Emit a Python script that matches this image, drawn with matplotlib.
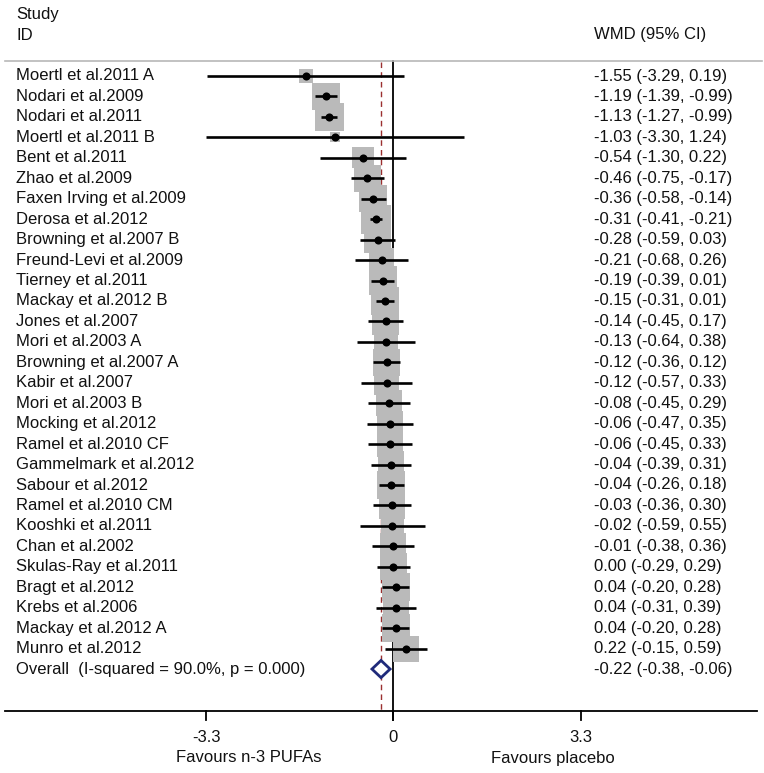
import matplotlib
matplotlib.use("Agg")
import matplotlib.pyplot as plt
from matplotlib.patches import Polygon
from matplotlib.transforms import blended_transform_factory

plt.rcParams['font.family'] = ['Liberation Sans', 'DejaVu Sans']

studies = ["Moertl et al.2011 A", "Nodari et al.2009", "Nodari et al.2011",
           "Moertl et al.2011 B", "Bent et al.2011", "Zhao et al.2009",
           "Faxen Irving et al.2009", "Derosa et al.2012", "Browning et al.2007 B",
           "Freund-Levi et al.2009", "Tierney et al.2011", "Mackay et al.2012 B",
           "Jones et al.2007", "Mori et al.2003 A", "Browning et al.2007 A",
           "Kabir et al.2007", "Mori et al.2003 B", "Mocking et al.2012",
           "Ramel et al.2010 CF", "Gammelmark et al.2012", "Sabour et al.2012",
           "Ramel et al.2010 CM", "Kooshki et al.2011", "Chan et al.2002",
           "Skulas-Ray et al.2011", "Bragt et al.2012", "Krebs et al.2006",
           "Mackay et al.2012 A", "Munro et al.2012"]
wmd = [-1.55, -1.19, -1.13, -1.03, -0.54, -0.46, -0.36, -0.31, -0.28, -0.21,
       -0.19, -0.15, -0.14, -0.13, -0.12, -0.12, -0.08, -0.06, -0.06, -0.04,
       -0.04, -0.03, -0.02, -0.01, 0.00, 0.04, 0.04, 0.04, 0.22]
ci_lo = [-3.29, -1.39, -1.27, -3.30, -1.30, -0.75, -0.58, -0.41, -0.59, -0.68,
         -0.39, -0.31, -0.45, -0.64, -0.36, -0.57, -0.45, -0.47, -0.45, -0.39,
         -0.26, -0.36, -0.59, -0.38, -0.29, -0.20, -0.31, -0.20, -0.15]
ci_hi = [0.19, -0.99, -0.99, 1.24, 0.22, -0.17, -0.14, -0.21, 0.03, 0.26,
         0.01, 0.01, 0.17, 0.38, 0.12, 0.33, 0.29, 0.35, 0.33, 0.31,
         0.18, 0.30, 0.55, 0.36, 0.29, 0.28, 0.39, 0.28, 0.59]
# approximate % weights
weights = [1.0, 3.9, 4.2, 0.5, 2.4, 3.8, 3.9, 4.5, 3.9, 3.1,
           4.2, 4.2, 3.9, 3.0, 3.9, 3.2, 3.6, 3.4, 3.4, 3.6,
           4.2, 3.6, 2.7, 3.6, 3.9, 4.2, 3.6, 4.2, 3.6]
overall = [-0.22, -0.38, -0.06]
overall_label = "Overall  (I-squared = 90.0%, p = 0.000)"
xticks = [-3.3, 0, 3.3]

W, H = 764, 773
px_per_unit = 56.7
x0_px = 393.5
row0_px, row_px = 76, 20.45

fig = plt.figure(figsize=(W / 100, H / 100), dpi=100)
ax = fig.add_axes([0, 0, 1, 1])
ax.set_xlim(-x0_px / px_per_unit, (W - x0_px) / px_per_unit)
ax.set_ylim((H - row0_px) / row_px, -row0_px / row_px)
ax.axis('off')

def ypx(p):
    return (p - row0_px) / row_px

def xpx(p):
    return (p - x0_px) / px_per_unit

n = len(studies)
rows = list(range(n))
tr = blended_transform_factory(ax.transAxes, ax.transData)
fs = 12
tc = '#111111'

# header
ax.text(16 / W, ypx(15), "Study", transform=tr, fontsize=fs, va='center', color=tc)
ax.text(16 / W, ypx(35), "ID", transform=tr, fontsize=fs, va='center', color=tc)
ax.text(594 / W, ypx(35), "WMD (95% CI)", transform=tr, fontsize=fs, va='center', color=tc)
ax.plot([xpx(5), xpx(762)], [ypx(61), ypx(61)], color='#b8b8b8', lw=1.2)

# reference lines
ax.plot([0, 0], [ypx(61), ypx(720)], color='black', lw=1.3, zorder=1)
ax.plot([overall[0], overall[0]], [ypx(62), ypx(711)], color='#9b3030', lw=1.0,
        dashes=(4, 3), zorder=1)

# weight boxes
sizes = [(w ** 0.5 * 13.8 * 0.72) ** 2 for w in weights]
ax.scatter(wmd, rows, s=sizes, marker='s', color='#bababa', linewidths=0, zorder=2)

# CIs and point estimates
ax.hlines(rows, ci_lo, ci_hi, color='black', lw=1.9, zorder=3)
ax.scatter(wmd, rows, s=34, marker='o', color='black', linewidths=0, zorder=4)

for i in rows:
    ax.text(16 / W, i, studies[i], transform=tr, fontsize=fs, va='center', color=tc)
    ax.text(594 / W, i, "%.2f (%.2f, %.2f)" % (wmd[i], ci_lo[i], ci_hi[i]),
            transform=tr, fontsize=fs, va='center', color=tc)

# overall diamond
yo = n
h = 0.42
dia = Polygon([(overall[1], yo), (overall[0], yo - h), (overall[2], yo),
               (overall[0], yo + h)], closed=True, facecolor='white',
              edgecolor='#1f2a7a', lw=2, zorder=5)
ax.add_patch(dia)
ax.text(16 / W, yo, overall_label, transform=tr, fontsize=fs, va='center', color=tc)
ax.text(594 / W, yo, "%.2f (%.2f, %.2f)" % tuple(overall), transform=tr,
        fontsize=fs, va='center', color=tc)

# x axis
ax.plot([xpx(5), xpx(757)], [ypx(711), ypx(711)], color='black', lw=1.3)
for t in xticks:
    ax.plot([t, t], [ypx(711), ypx(720)], color='black', lw=1.3)
    ax.text(t, ypx(737), ("%g" % t), fontsize=fs, ha='center', va='center', color=tc)
ax.text(xpx(249), ypx(758), "Favours n-3 PUFAs", fontsize=fs, ha='center', va='center', color=tc)
ax.text(xpx(553), ypx(758), "Favours placebo", fontsize=fs, ha='center', va='center', color=tc)

fig.savefig("out.png", dpi=100)
